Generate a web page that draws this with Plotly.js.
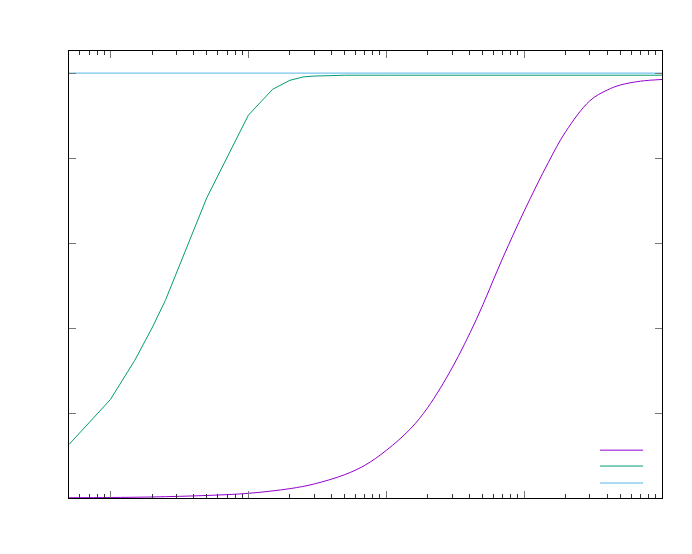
<!DOCTYPE html>
<html>
<head>
<meta charset="utf-8">
<script src="https://cdn.plot.ly/plotly-3.0.1.min.js"></script>
<style>body{margin:0;background:#fff}</style>
</head>
<body>
<div id="plot" style="width:692px;height:554px"></div>
<script>
// values
var purpleX = [0.5, 1, 2, 5, 10, 20, 30, 50, 70, 100, 150, 200, 300, 450, 700, 1000, 1500, 2000, 3000, 4000, 5000, 7000, 10000];
var purpleY = [0.0006, 0.0012, 0.0024, 0.006, 0.011, 0.022, 0.033, 0.055, 0.077, 0.112, 0.163, 0.213, 0.306, 0.420, 0.565, 0.675, 0.790, 0.862, 0.935, 0.960, 0.972, 0.981, 0.985];

var greenX = [0.5, 1, 1.5, 2, 2.5, 3, 3.5, 4, 4.5, 5, 10, 15, 20, 25, 30, 50, 100, 1000, 10000];
var greenY = [0.126, 0.232, 0.324, 0.400, 0.465, 0.528, 0.582, 0.629, 0.671, 0.707, 0.901, 0.962, 0.983, 0.991, 0.993, 0.995, 0.995, 0.995, 0.995];

var blueX = [0.5, 10000];
var blueY = [1, 1];

var traces = [
  {x: purpleX, y: purpleY, type: "scatter", mode: "lines", name: " ", legend: "legend",
   line: {color: "#9400d3", width: 1, shape: "spline", smoothing: 1}},
  {x: greenX, y: greenY, type: "scatter", mode: "lines", name: " ", legend: "legend2",
   line: {color: "#009e73", width: 1}},
  {x: blueX, y: blueY, type: "scatter", mode: "lines", name: " ", legend: "legend3",
   line: {color: "#56b4e9", width: 1}}
];

function leg(y) {
  return {x: 0.99, xanchor: "right", y: y, yanchor: "middle", itemwidth: 43,
          bgcolor: "rgba(0,0,0,0)", font: {size: 8}};
}

var layout = {
  width: 692, height: 554,
  margin: {l: 69, r: 30, t: 51, b: 56},
  paper_bgcolor: "#fff", plot_bgcolor: "#fff",
  showlegend: true,
  legend: leg(0.107),
  legend2: leg(0.0715),
  legend3: leg(0.0335),
  xaxis: {type: "log", range: [Math.log10(0.5), 4], showgrid: false, zeroline: false,
          showline: true, linecolor: "#000", linewidth: 1, mirror: "allticks",
          ticks: "inside", ticklen: 7, tickcolor: "#777", dtick: 1, showticklabels: false,
          minor: {ticks: "inside", ticklen: 4, tickcolor: "#333", dtick: "D1", showgrid: false}},
  yaxis: {range: [0, 1.052], showgrid: false, zeroline: false,
          showline: true, linecolor: "#000", linewidth: 1, mirror: "allticks",
          ticks: "inside", ticklen: 7, tickcolor: "#777", dtick: 0.2, showticklabels: false}
};

Plotly.newPlot("plot", traces, layout, {displayModeBar: false});
</script>
</body>
</html>
